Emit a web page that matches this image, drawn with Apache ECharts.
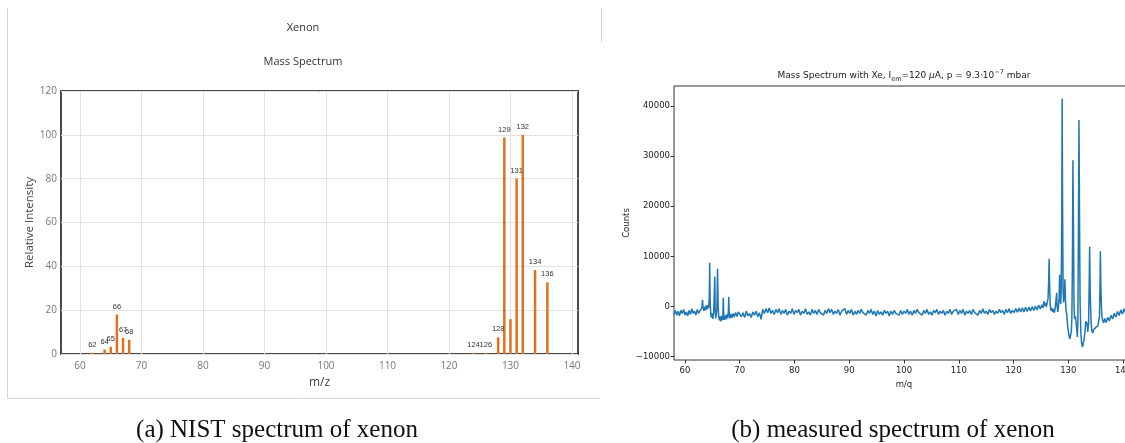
<!DOCTYPE html>
<html>
<head>
<meta charset="utf-8">
<script src="https://cdn.jsdelivr.net/npm/echarts@6/dist/echarts.min.js"></script>
<style>
html, body { margin: 0; padding: 0; overflow: hidden; background: #fff; width: 1125px; height: 443px; }
#chart { width: 1160px; height: 443px; }
</style>
</head>
<body>
<div id="chart"></div>
<script>
// NIST electron-ionisation spectrum of xenon (relative intensity per m/z)
const nistMz = [62, 64, 65, 66, 67, 68, 124, 126, 128, 129, 130, 131, 132, 134, 136];
const nistIntensity = [0.6, 2.0, 3.3, 18.0, 7.3, 6.5, 0.5, 0.5, 7.6, 98.8, 15.9, 80.0, 100, 38.3, 32.7];
const nistLabelShown = [true, true, true, true, true, true, true, true, true, true, false, true, true, true, true];

// tick positions
const massTicks = [60, 70, 80, 90, 100, 110, 120, 130, 140];
const intensityTicks = [0, 20, 40, 60, 80, 100, 120];
const countTicks = [-10000, 0, 10000, 20000, 30000, 40000];

// measured spectrum: [m/q, counts]
const measured = [
  [58.0,-1600],[58.25,-800],[58.5,-1750],[58.75,-950],[59.0,-1900],[59.25,-800],[59.5,-1400],[59.75,-600],
  [60.0,-1750],[60.25,-1100],[60.5,-1900],[60.75,-800],[61.0,-1600],[61.25,-450],[61.5,-1400],[61.75,-950],
  [62.0,-1750],[62.25,-600],[62.5,-1400],[62.75,-800],[63.0,-700],
  [63.1,-300],[63.2,1300],[63.3,-100],[63.45,-900],[63.6,-100],[63.75,-800],[63.9,200],[64.05,-600],
  [64.2,300],[64.35,-300],[64.45,2000],[64.52,8700],[64.6,1000],[64.7,-1200],[64.8,-2200],[64.95,-1400],
  [65.1,-2500],[65.25,-1100],[65.38,-900],[65.45,5900],[65.52,-600],[65.62,-2400],[65.75,-1400],[65.85,-300],
  [65.95,7500],[66.05,500],[66.15,-1900],[66.3,-2800],[66.45,-2000],[66.6,-3000],[66.75,-1900],[66.9,-2700],
  [67.0,1700],[67.08,-1600],[67.2,-2700],[67.35,-1800],[67.5,-2600],[67.65,-1600],[67.8,-2400],[67.92,-1200],
  [68.0,1900],[68.08,-1500],[68.2,-2400],[68.4,-1500],[68.6,-2300],[68.8,-1400],[69.0,-2100],[69.25,-1200],
  [69.5,-2000],[69.75,-1100],
  [70.0,-1100],[70.3,-2050],[70.6,-1250],[70.9,-2200],[71.2,-950],[71.5,-1900],[71.8,-1400],[72.1,-2200],
  [72.4,-1100],[72.7,-1750],[73.0,-950],[73.3,-2050],[73.6,-1250],[73.9,-2600],[74.2,-600],[74.5,-1400],
  [74.8,-450],[75.1,-1250],[75.4,-300],[75.7,-1400],[76.0,-800],[76.3,-1600],[76.6,-600],[76.9,-1250],
  [77.2,-450],[77.5,-1600],[77.8,-800],[78.1,-1400],[78.4,-600],[78.7,-1750],[79.0,-950],[79.3,-1400],
  [79.6,-450],[79.9,-1600],[80.2,-800],[80.5,-1250],[80.8,-600],[81.1,-1750],[81.4,-950],[81.7,-1400],
  [82.0,-450],[82.3,-1600],[82.6,-1100],[82.9,-1750],[83.2,-600],[83.5,-1400],[83.8,-800],[84.1,-1600],
  [84.4,-600],[84.7,-1250],[85.0,-950],[85.3,-1750],[85.6,-800],[85.9,-1400],[86.2,-450],[86.5,-1250],
  [86.8,-600],[87.1,-1600],[87.4,-950],[87.7,-1400],[88.0,-600],[88.3,-1750],[88.6,-950],[88.9,-1250],
  [89.2,-450],[89.5,-1600],[89.8,-800],[90.1,-1400],[90.4,-600],[90.7,-1750],[91.0,-950],[91.3,-1600],
  [91.6,-800],[91.9,-1400],[92.2,-600],[92.5,-1250],[92.8,-950],[93.1,-1750],[93.4,-800],[93.7,-1400],
  [94.0,-600],[94.3,-1600],[94.6,-950],[94.9,-1900],[95.2,-800],[95.5,-1600],[95.8,-1100],[96.1,-1750],
  [96.4,-800],[96.7,-1400],[97.0,-950],[97.3,-1900],[97.6,-950],[97.9,-1600],[98.2,-800],[98.5,-1400],
  [98.8,-1100],[99.1,-1750],[99.4,-800],[99.7,-1600],[100.0,-950],[100.3,-1400],[100.6,-600],[100.9,-1600],
  [101.2,-950],[101.5,-1750],[101.8,-800],[102.1,-1400],[102.4,-600],[102.7,-1250],[103.0,-950],[103.3,-1750],
  [103.6,-800],[103.9,-1400],[104.2,-600],[104.5,-1600],[104.8,-1100],[105.1,-1750],[105.4,-800],[105.7,-1250],
  [106.0,-600],[106.3,-1600],[106.6,-950],[106.9,-1400],[107.2,-800],[107.5,-1750],[107.8,-950],[108.1,-1400],
  [108.4,-600],[108.7,-1600],[109.0,-950],[109.3,-1250],[109.6,-600],[109.9,-1600],[110.2,-800],[110.5,-1400],
  [110.8,-600],[111.1,-1750],[111.4,-950],[111.7,-1400],[112.0,-800],[112.3,-1600],[112.6,-600],[112.9,-1250],
  [113.2,-950],[113.5,-1750],[113.8,-800],[114.1,-1400],[114.4,-450],[114.7,-1400],[115.0,-950],[115.3,-1600],
  [115.6,-600],[115.9,-1250],[116.2,-800],[116.5,-1600],[116.8,-950],[117.1,-1400],[117.4,-600],[117.7,-1250],
  [118.0,-800],[118.3,-1600],[118.6,-600],[118.9,-1250],[119.2,-450],[119.5,-1400],[119.8,-800],[120.1,-1250],
  [120.4,-450],[120.7,-1150],[121.0,-350],[121.3,-1100],[121.6,-250],[121.9,-1100],[122.2,-150],[122.5,-1000],
  [122.8,-150],[123.1,-900],[123.4,-50],[123.7,-800],[124.0,50],[124.3,-700],[124.6,250],[124.9,-500],
  [125.2,300],[125.4,-300],[125.55,1000],[125.7,100],[125.85,700],[126.0,-100],[126.15,800],[126.3,1500],
  [126.42,5000],[126.5,9500],[126.58,4500],[126.7,300],[126.85,-900],[127.0,-300],[127.15,-1100],[127.3,-500],
  [127.45,-1300],[127.6,-400],[127.75,-300],[127.88,2700],[127.96,-100],[128.08,-1100],[128.2,-200],[128.32,1500],
  [128.42,6300],[128.5,1800],[128.62,500],[128.72,4000],[128.82,20000],[128.88,41500],[128.95,22000],[129.05,3000],
  [129.15,800],[129.28,2500],[129.38,5400],[129.48,1500],[129.6,-1000],[129.72,-1500],[129.85,-3500],[130.0,-5000],
  [130.15,-5900],[130.3,-6500],[130.42,-6200],[130.55,-5000],[130.65,-2500],[130.75,8000],[130.85,29200],[130.95,15000],
  [131.05,0],[131.15,-2500],[131.3,-2000],[131.42,-1800],[131.55,-4500],[131.65,-6100],[131.75,-3000],[131.85,15000],
  [131.95,37200],[132.05,18000],[132.15,1000],[132.3,-5500],[132.45,-7500],[132.6,-8100],[132.75,-7800],[132.9,-6500],
  [133.05,-5000],[133.2,-3000],[133.35,-2700],[133.45,-3500],[133.55,-5100],[133.7,-3500],[133.8,3000],[133.9,11900],
  [134.0,3000],[134.15,-3000],[134.3,-4800],[134.45,-5300],[134.6,-4700],[134.8,-4800],[135.0,-4200],[135.2,-4500],
  [135.4,-3900],[135.55,-4100],[135.7,-2000],[135.8,5000],[135.86,11000],[135.95,4000],[136.1,-1500],[136.25,-2700],
  [136.45,-3300],[136.65,-2400],[136.9,-3200],[137.2,-2200],[137.5,-2900],[137.8,-1800],[138.1,-2500],[138.4,-1400],
  [138.7,-2100],[139.0,-1000],[139.3,-1800],[139.6,-700],[139.9,-1500],[140.2,-500],[140.5,-1300],[140.8,-400],
  [141.1,-1200],[141.4,-300],[141.7,-1100],[142.0,-500]
];

const barColor = '#e2711d';
const lineColor = '#1f77b4';
const sansLeft = 'Open Sans';
const sansRight = 'DejaVu Sans';

const chart = echarts.init(document.getElementById('chart'), null, { renderer: 'canvas' });

const nistData = nistMz.map((m, i) => ({
  value: [m, nistIntensity[i]],
  label: { show: nistLabelShown[i] }
}));

const option = {
  animation: false,
  backgroundColor: '#fff',
  grid: [
    { left: 61, top: 91, width: 517, height: 263, show: true, borderColor: '#4a4a4a', borderWidth: 2, backgroundColor: 'transparent' },
    { left: 674, top: 86, width: 460, height: 274, show: true, borderColor: '#333', borderWidth: 1, backgroundColor: 'transparent' }
  ],
  xAxis: [
    {
      gridIndex: 0, type: 'value', min: 56.91, max: 140.98,
      axisLine: { show: false, onZero: false },
      axisTick: { show: false, customValues: massTicks },
      axisLabel: { customValues: massTicks, color: '#777', fontSize: 10, fontFamily: sansLeft, margin: 7 },
      splitLine: { show: true, lineStyle: { color: '#e2e2e2', width: 1 } },
      name: 'm/z', nameLocation: 'middle', nameGap: 23,
      nameTextStyle: { color: '#444', fontSize: 12, fontFamily: sansLeft }
    },
    {
      gridIndex: 1, type: 'value', min: 58, max: 142,
      axisLine: { show: false, onZero: false },
      axisTick: { show: true, customValues: massTicks, length: 3.5, lineStyle: { color: '#333', width: 1 } },
      axisLabel: { customValues: massTicks, color: '#222', fontSize: 8.5, fontFamily: sansRight, margin: 6 },
      splitLine: { show: false },
      name: 'm/q', nameLocation: 'middle', nameGap: 18,
      nameTextStyle: { color: '#222', fontSize: 8.5, fontFamily: sansRight }
    }
  ],
  yAxis: [
    {
      gridIndex: 0, type: 'value', min: 0, max: 120, interval: 20,
      axisLine: { show: false, onZero: false },
      axisTick: { show: false, customValues: intensityTicks },
      axisLabel: { customValues: intensityTicks, color: '#777', fontSize: 10, fontFamily: sansLeft, margin: 4 },
      splitLine: { show: true, lineStyle: { color: '#e2e2e2', width: 1 } },
      name: 'Relative Intensity', nameLocation: 'middle', nameGap: 23,
      nameTextStyle: { color: '#444', fontSize: 11.5, fontFamily: sansLeft }
    },
    {
      gridIndex: 1, type: 'value', min: -10700, max: 44000,
      axisLine: { show: false, onZero: false },
      axisTick: { show: true, customValues: countTicks, length: 3.5, lineStyle: { color: '#333', width: 1 } },
      axisLabel: {
        customValues: countTicks, color: '#222', fontSize: 8.5, fontFamily: sansRight, margin: 4,
        formatter: v => (v < 0 ? '\u2212' + Math.abs(v) : String(v))
      },
      splitLine: { show: false },
      name: 'Counts', nameLocation: 'middle', nameGap: 43,
      nameTextStyle: { color: '#222', fontSize: 8.5, fontFamily: sansRight }
    }
  ],
  series: [
    {
      type: 'bar', xAxisIndex: 0, yAxisIndex: 0,
      data: nistData,
      barWidth: 2.5,
      itemStyle: { color: barColor },
      label: {
        show: true, position: 'top', distance: 4,
        formatter: p => String(p.value[0]),
        fontSize: 7.5, color: '#333', fontFamily: 'Liberation Sans'
      }
    },
    {
      type: 'line', xAxisIndex: 1, yAxisIndex: 1,
      data: measured,
      showSymbol: false,
      lineStyle: { color: lineColor, width: 1.5 },
      emphasis: { disabled: true }
    }
  ],
  graphic: [
    { type: 'line', shape: { x1: 7.5, y1: 8, x2: 7.5, y2: 398 }, style: { stroke: '#d4d4d4', lineWidth: 1 }, silent: true },
    { type: 'line', shape: { x1: 7, y1: 398.5, x2: 600, y2: 398.5 }, style: { stroke: '#d4d4d4', lineWidth: 1 }, silent: true },
    { type: 'line', shape: { x1: 601.5, y1: 8, x2: 601.5, y2: 42 }, style: { stroke: '#d4d4d4', lineWidth: 1 }, silent: true },
    { type: 'text', x: 303, y: 28, style: { text: 'Xenon', fill: '#333', font: '11px "Open Sans"', align: 'center', verticalAlign: 'middle' }, silent: true },
    { type: 'text', x: 303, y: 62, style: { text: 'Mass Spectrum', fill: '#333', font: '11px "Open Sans"', align: 'center', verticalAlign: 'middle' }, silent: true },
    {
      type: 'text', x: 904, y: 76, silent: true,
      style: {
        text: 'Mass Spectrum with Xe, I{sub|em}=120 {mu|\u03bc}A, p = 9.3\u00b710{sup|\u22127} mbar',
        fill: '#222', font: '9px "DejaVu Sans"', align: 'center', verticalAlign: 'middle', lineHeight: 14,
        rich: {
          sub: { fontSize: 6.5, fontFamily: 'DejaVu Sans', verticalAlign: 'bottom', lineHeight: 14, fill: '#222' },
          sup: { fontSize: 6.5, fontFamily: 'DejaVu Sans', verticalAlign: 'top', lineHeight: 14, fill: '#222' },
          mu: { fontSize: 9, fontFamily: 'DejaVu Sans', fontStyle: 'italic', lineHeight: 14, fill: '#222' }
        }
      }
    },
    { type: 'text', x: 277, y: 430, style: { text: '(a) NIST spectrum of xenon', fill: '#111', font: '25px "Liberation Serif"', align: 'center', verticalAlign: 'middle' }, silent: true },
    { type: 'text', x: 893, y: 430, style: { text: '(b) measured spectrum of xenon', fill: '#111', font: '25px "Liberation Serif"', align: 'center', verticalAlign: 'middle' }, silent: true }
  ]
};

chart.setOption(option);
</script>
</body>
</html>
